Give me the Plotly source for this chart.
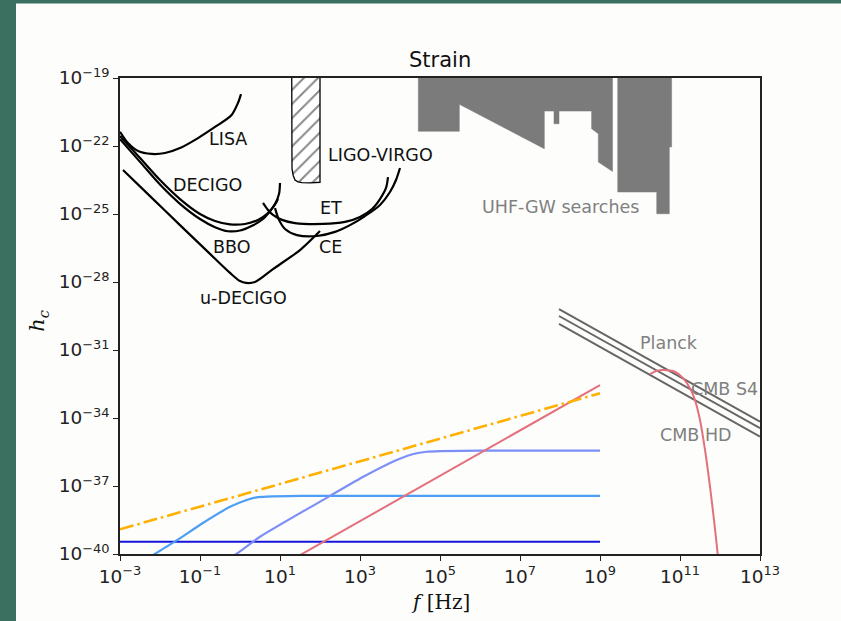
import numpy as np
import plotly.graph_objects as go

# ---------------- data (log10 f [Hz], log10 h_c) ----------------
lisa_logf = [-3.0, -2.8, -2.55, -2.21, -1.875, -1.5, -1.05, -0.625, -0.21, -0.05, 0.025]
lisa_logh = [-21.37, -21.87, -22.22, -22.35, -22.31, -22.09, -21.65, -21.16, -20.63, -20.10, -19.71]

decigo_logf = [-3.0, -2.5, -2.0, -1.5, -1.0, -0.625, -0.25, 0.125, 0.45, 0.7, 0.875, 0.975, 1.0]
decigo_logh = [-21.56, -22.53, -23.50, -24.34, -25.0, -25.31, -25.46, -25.44, -25.26, -24.96, -24.56, -24.12, -23.63]

bbo_logf = [-3.0, -2.5, -2.0, -1.5, -1.0, -0.625, -0.3, 0.0, 0.3, 0.575, 0.775, 0.9, 0.95]
bbo_logh = [-21.70, -22.70, -23.70, -24.55, -25.22, -25.58, -25.76, -25.73, -25.52, -25.22, -24.82, -24.51, -24.34]

et_logf = [0.575, 0.7, 0.825, 1.05, 1.375, 2.075, 2.625, 3.0, 3.3, 3.5, 3.65, 3.7]
et_logh = [-24.51, -24.82, -25.04, -25.26, -25.40, -25.44, -25.35, -25.13, -24.78, -24.34, -23.85, -23.37]

ce_logf = [0.875, 0.975, 1.125, 1.425, 1.925, 2.375, 2.75, 3.125, 3.5, 3.75, 3.9, 4.0]
ce_logh = [-24.74, -25.26, -25.66, -25.93, -25.97, -25.79, -25.49, -25.09, -24.60, -24.03, -23.50, -22.97]

udecigo_logf = [-2.925, -2.25, -1.5, -0.75, -0.25, 0.0, 0.15, 0.375, 0.825, 1.5, 2.0]
udecigo_logh = [-23.06, -24.21, -25.49, -26.76, -27.60, -27.96, -28.04, -28.0, -27.43, -26.59, -25.75]

ligo_logf = [1.2925, 1.2925, 1.30, 1.33, 1.375, 1.45, 1.55, 1.75, 2.0, 2.0]
ligo_logh = [-18.5, -22.6, -23.0, -23.3, -23.5, -23.58, -23.62, -23.63, -23.6, -18.5]

uhf1_logf = [4.458, 4.458, 5.483, 5.483, 7.608, 7.608, 7.85, 7.85, 7.975, 7.975, 8.79, 8.79, 8.958, 8.958, 9.3125, 9.3125]
uhf1_logh = [-18.5, -21.35, -21.35, -20.16, -22.12, -20.46, -20.46, -21.02, -21.02, -20.46, -20.46, -21.24, -21.46, -22.71, -23.12, -18.5]
uhf2_logf = [9.443, 9.443, 10.418, 10.418, 10.733, 10.733, 10.79, 10.79]
uhf2_logh = [-18.5, -24.03, -24.03, -24.99, -24.99, -22.04, -22.04, -18.5]

cmb_logf = [7.975, 13.0]
planck_logh = [-29.20, -34.16]
s4_logh = [-29.50, -34.45]
hd_logh = [-29.85, -34.82]

red_curve_logf = [10.25, 10.4, 10.583, 10.875, 11.083, 11.25, 11.375, 11.5, 11.625, 11.75, 11.85, 11.94, 11.99]
red_curve_logh = [-32.06, -31.93, -31.88, -31.96, -32.25, -32.69, -33.21, -34.09, -35.41, -37.03, -38.50, -39.97, -41.0]

red_line_logf = [1.4, 9.0]
red_line_logh = [-40.15, -32.55]

orange_logf = [-3.0, 9.0]
orange_logh = [-38.91, -32.91]

darkblue_logf = [-3.0, 9.0]
darkblue_logh = [-39.46, -39.46]

lightblue_logf = [-2.5, -2.167, -1.583, -0.917, -0.25, 0.167, 0.417, 0.667, 1.5, 9.0]
lightblue_logh = [-40.4, -40.04, -39.40, -38.62, -37.92, -37.62, -37.50, -37.47, -37.44, -37.44]

peri_logf = [-0.4, -0.125, 0.5, 2.0, 3.083, 3.917, 4.333, 4.667, 5.0, 6.0, 9.0]
peri_logh = [-40.3, -40.04, -39.24, -37.69, -36.59, -35.85, -35.59, -35.49, -35.46, -35.44, -35.44]

x_tick_exps = [-3, -1, 1, 3, 5, 7, 9, 11, 13]
y_tick_exps = [-40, -37, -34, -31, -28, -25, -22, -19]

black_labels = ["LISA", "LIGO-VIRGO", "DECIGO", "ET", "BBO", "CE", "u-DECIGO"]
black_label_logf = [-0.3, 3.51, -0.82, 2.27, -0.22, 2.27, 0.09]
black_label_logh = [-21.69, -22.40, -23.72, -24.74, -26.44, -26.44, -28.69]

gray_labels = ["UHF-GW searches", "Planck", "CMB S4", "CMB HD"]
gray_label_logf = [8.0, 10.72, 12.1, 11.39]
gray_label_logh = [-24.70, -30.70, -32.73, -34.75]


def P(v):
    return 10.0 ** np.asarray(v, dtype=float)


fig = go.Figure()

# UHF-GW gray regions
for lf, lh in [(uhf1_logf, uhf1_logh), (uhf2_logf, uhf2_logh)]:
    fig.add_trace(go.Scatter(x=P(lf), y=P(lh), mode="lines", fill="toself",
                             fillcolor="#7b7b7b", line=dict(color="#7b7b7b", width=0.5),
                             hoverinfo="skip", showlegend=False))

# LIGO-VIRGO hatched region
fig.add_trace(go.Scatter(x=P(ligo_logf), y=P(ligo_logh), mode="lines", fill="toself",
                         fillcolor="white",
                         fillpattern=dict(shape="/", fgcolor="#111111", bgcolor="white",
                                          size=10, solidity=0.2),
                         line=dict(color="black", width=1.3),
                         hoverinfo="skip", showlegend=False))

# detector curves
for lf, lh in [(lisa_logf, lisa_logh), (decigo_logf, decigo_logh), (bbo_logf, bbo_logh),
               (et_logf, et_logh), (ce_logf, ce_logh), (udecigo_logf, udecigo_logh)]:
    fig.add_trace(go.Scatter(x=P(lf), y=P(lh), mode="lines",
                             line=dict(color="black", width=2.2, shape="spline", smoothing=0.8),
                             hoverinfo="skip", showlegend=False))

# CMB bounds
for lh in [planck_logh, s4_logh, hd_logh]:
    fig.add_trace(go.Scatter(x=P(cmb_logf), y=P(lh), mode="lines",
                             line=dict(color="#666666", width=2),
                             hoverinfo="skip", showlegend=False))

# signals
fig.add_trace(go.Scatter(x=P(darkblue_logf), y=P(darkblue_logh), mode="lines",
                         line=dict(color="#1414dc", width=2.2), hoverinfo="skip", showlegend=False))
fig.add_trace(go.Scatter(x=P(lightblue_logf), y=P(lightblue_logh), mode="lines",
                         line=dict(color="#4c9ff5", width=2.2, shape="spline", smoothing=0.6),
                         hoverinfo="skip", showlegend=False))
fig.add_trace(go.Scatter(x=P(peri_logf), y=P(peri_logh), mode="lines",
                         line=dict(color="#7d8ef6", width=2.2, shape="spline", smoothing=0.6),
                         hoverinfo="skip", showlegend=False))
fig.add_trace(go.Scatter(x=P(red_line_logf), y=P(red_line_logh), mode="lines",
                         line=dict(color="#e4707c", width=2), hoverinfo="skip", showlegend=False))
fig.add_trace(go.Scatter(x=P(red_curve_logf), y=P(red_curve_logh), mode="lines",
                         line=dict(color="#e4707c", width=2, shape="spline", smoothing=0.8),
                         hoverinfo="skip", showlegend=False))
fig.add_trace(go.Scatter(x=P(orange_logf), y=P(orange_logh), mode="lines",
                         line=dict(color="#ffb000", width=2.6, dash="14px,4px,2.5px,4px"),
                         hoverinfo="skip", showlegend=False))

annotations = []
for t, lf, lh in zip(black_labels, black_label_logf, black_label_logh):
    annotations.append(dict(text=t, x=lf, y=lh, xref="x", yref="y", showarrow=False,
                            xanchor="center", yanchor="middle",
                            font=dict(family="DejaVu Sans", size=17.5, color="#111111")))
for t, lf, lh in zip(gray_labels, gray_label_logf, gray_label_logh):
    annotations.append(dict(text=t, x=lf, y=lh, xref="x", yref="y", showarrow=False,
                            xanchor="center", yanchor="middle",
                            font=dict(family="DejaVu Sans", size=17.5, color="#808080")))

annotations.append(dict(text="Strain", x=0.5, y=1.0378, xref="paper", yref="paper",
                        xanchor="center", yanchor="middle",
                        showarrow=False, font=dict(family="DejaVu Sans", size=21, color="#111111")))
annotations.append(dict(text="<i>f</i> [Hz]", x=0.5, y=-0.1002, xref="paper", yref="paper",
                        xanchor="center", yanchor="middle",
                        showarrow=False, font=dict(family="DejaVu Serif", size=20, color="#111111")))
annotations.append(dict(text="<i>h</i><sub><i>c</i></sub>", x=-0.128, y=0.49, xref="paper", yref="paper",
                        xanchor="center", yanchor="middle",
                        showarrow=False, textangle=-90,
                        font=dict(family="DejaVu Serif", size=21, color="#111111")))

fig.update_layout(
    width=841, height=621,
    margin=dict(l=120, r=81, t=78, b=67),
    paper_bgcolor="#3b6f5f",
    plot_bgcolor="#fdfdfb",
    showlegend=False,
    annotations=annotations,
    shapes=[dict(type="rect", xref="paper", yref="paper", x0=-0.1625, x1=1.2, y0=-0.2, y1=1.1565,
                 fillcolor="#fdfdfb", line=dict(width=0), layer="below")],
)

fig.update_xaxes(type="log", range=[-3, 13], showgrid=False, zeroline=False,
                 showline=True, mirror=True, linecolor="#222222", linewidth=1.5,
                 ticks="outside", ticklen=5, tickwidth=1.3, tickcolor="#222222",
                 tickvals=[10.0 ** e for e in x_tick_exps],
                 ticktext=["10<sup>%s</sup>" % (str(e).replace("-", "\u2212")) for e in x_tick_exps],
                 tickfont=dict(family="DejaVu Sans", size=18.5, color="#222222"))
fig.update_yaxes(type="log", range=[-40, -19], showgrid=False, zeroline=False,
                 showline=True, mirror=True, linecolor="#222222", linewidth=1.5,
                 ticks="outside", ticklen=5, tickwidth=1.3, tickcolor="#222222",
                 tickvals=[10.0 ** e for e in y_tick_exps],
                 ticktext=["10<sup>%s</sup>" % (str(e).replace("-", "\u2212")) for e in y_tick_exps],
                 tickfont=dict(family="DejaVu Sans", size=18.5, color="#222222"))

fig.write_html("out.html", config={"displayModeBar": False},
               post_script="document.body.style.margin='0';document.body.style.background='#3b6f5f';")
